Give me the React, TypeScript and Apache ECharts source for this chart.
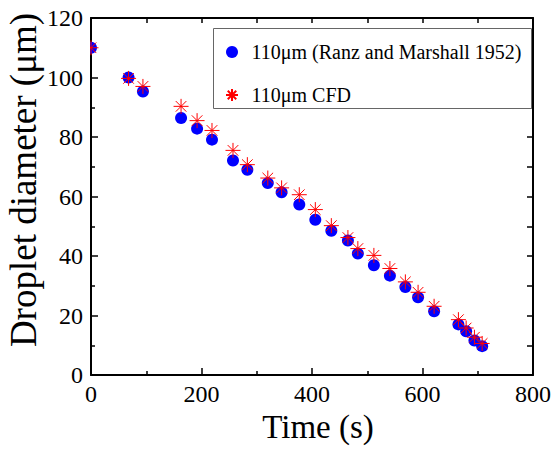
import React, { useEffect, useRef } from "react";
import * as echarts from "echarts";

const times = [0, 68, 94, 163, 192, 219, 257, 283, 320, 345, 377, 406, 435, 465, 483, 512, 541, 569, 592, 621, 665, 679, 694, 708];
const ranzMarshall = [110, 100, 95.3, 86.4, 82.8, 79.1, 72.1, 69, 64.5, 61.4, 57.3, 52.2, 48.5, 45.2, 40.8, 36.9, 33.4, 29.6, 26.1, 21.4, 17, 14.7, 11.6, 9.7];
const cfd = [110, 99.7, 97, 90.3, 85.5, 82.2, 75.5, 70.7, 66.2, 62.9, 60.6, 55.6, 50.2, 46.2, 42.5, 40.2, 35.8, 31.3, 27.8, 23.1, 18.6, 15.8, 12.7, 10.6];
const seriesNames = ["110μm (Ranz and Marshall 1952)", "110μm CFD"];
const xTitle = "Time (s)";
const yTitle = "Droplet diameter (μm)";

const FONT = "'Liberation Serif', 'Times New Roman', serif";
const STAR = "path://M6,0 L6,12 M0,6 L12,6 M1.76,1.76 L10.24,10.24 M1.76,10.24 L10.24,1.76";

export default function App() {
  const ref = useRef<HTMLDivElement>(null);
  useEffect(() => {
    if (!ref.current) return;
    const chart = echarts.init(ref.current, undefined, { renderer: "svg" });
    const axisLine = { show: true, onZero: false, lineStyle: { color: "#000", width: 2 } };
    const tickStyle = { color: "#000", width: 1.5 };
    chart.setOption({
      animation: false,
      backgroundColor: "#fff",
      grid: { left: 91, right: 22, top: 18, bottom: 76 },
      legend: {
        orient: "vertical",
        left: 213,
        top: 28,
        padding: [14, 0, 0, 12],
        itemWidth: 29,
        itemHeight: 12,
        itemGap: 23,
        borderWidth: 0,
        textStyle: { fontFamily: FONT, fontSize: 20, color: "#000", lineHeight: 12 },
        data: seriesNames,
      },
      xAxis: [
        {
          type: "value",
          position: "bottom",
          min: 0,
          max: 800,
          interval: 200,
          axisLine,
          axisTick: { show: true, inside: true, length: 7, lineStyle: tickStyle },
          minorTick: { show: true, splitNumber: 2, length: 4, lineStyle: tickStyle },
          splitLine: { show: false },
          axisLabel: { fontFamily: FONT, fontSize: 24, color: "#000", margin: 7 },
        },
        {
          type: "value",
          position: "top",
          min: 0,
          max: 800,
          interval: 100,
          axisLine,
          axisTick: { show: true, inside: true, length: 5, lineStyle: tickStyle },
          splitLine: { show: false },
          axisLabel: { show: false },
        },
      ],
      yAxis: [
        {
          type: "value",
          position: "left",
          min: 0,
          max: 120,
          interval: 20,
          axisLine,
          axisTick: { show: true, inside: true, length: 7, lineStyle: tickStyle },
          minorTick: { show: true, splitNumber: 2, length: 4, lineStyle: tickStyle },
          splitLine: { show: false },
          axisLabel: { fontFamily: FONT, fontSize: 24, color: "#000", margin: 8 },
        },
        {
          type: "value",
          position: "right",
          min: 0,
          max: 120,
          interval: 10,
          axisLine,
          axisTick: { show: true, inside: true, length: 6, lineStyle: tickStyle },
          splitLine: { show: false },
          axisLabel: { show: false },
        },
      ],
      series: [
        {
          name: seriesNames[0],
          type: "scatter",
          symbol: "circle",
          symbolSize: 12,
          itemStyle: { color: "#0000ff", opacity: 1 },
          data: times.map((t, i) => [t, ranzMarshall[i]]),
        },
        {
          name: seriesNames[1],
          type: "scatter",
          symbol: STAR,
          symbolSize: 15,
          itemStyle: { color: "#ff0000", borderColor: "#ff0000", borderWidth: 1, opacity: 1 },
          data: times.map((t, i) => [t, cfd[i]]),
        },
      ],
      graphic: [
        {
          type: "rect",
          z: 5,
          shape: { x: 82, y: 38, width: 8, height: 18 },
          style: { fill: "#fff" },
        },
        {
          type: "rect",
          z: 1,
          shape: { x: 213.5, y: 28.5, width: 318, height: 80 },
          style: { fill: "#fff", stroke: "#666", lineWidth: 1 },
        },
        {
          type: "text",
          x: 318,
          y: 426.5,
          style: { text: xTitle, font: `33px ${FONT}`, fill: "#000", textAlign: "center", textVerticalAlign: "middle" },
        },
        {
          type: "text",
          x: 23,
          y: 180,
          rotation: Math.PI / 2,
          style: { text: yTitle, font: `37px ${FONT}`, fill: "#000", textAlign: "center", textVerticalAlign: "middle" },
        },
      ],
    });
    return () => chart.dispose();
  }, []);
  return <div ref={ref} style={{ position: "absolute", left: 0, top: 0, width: 555, height: 451 }} />;
}
